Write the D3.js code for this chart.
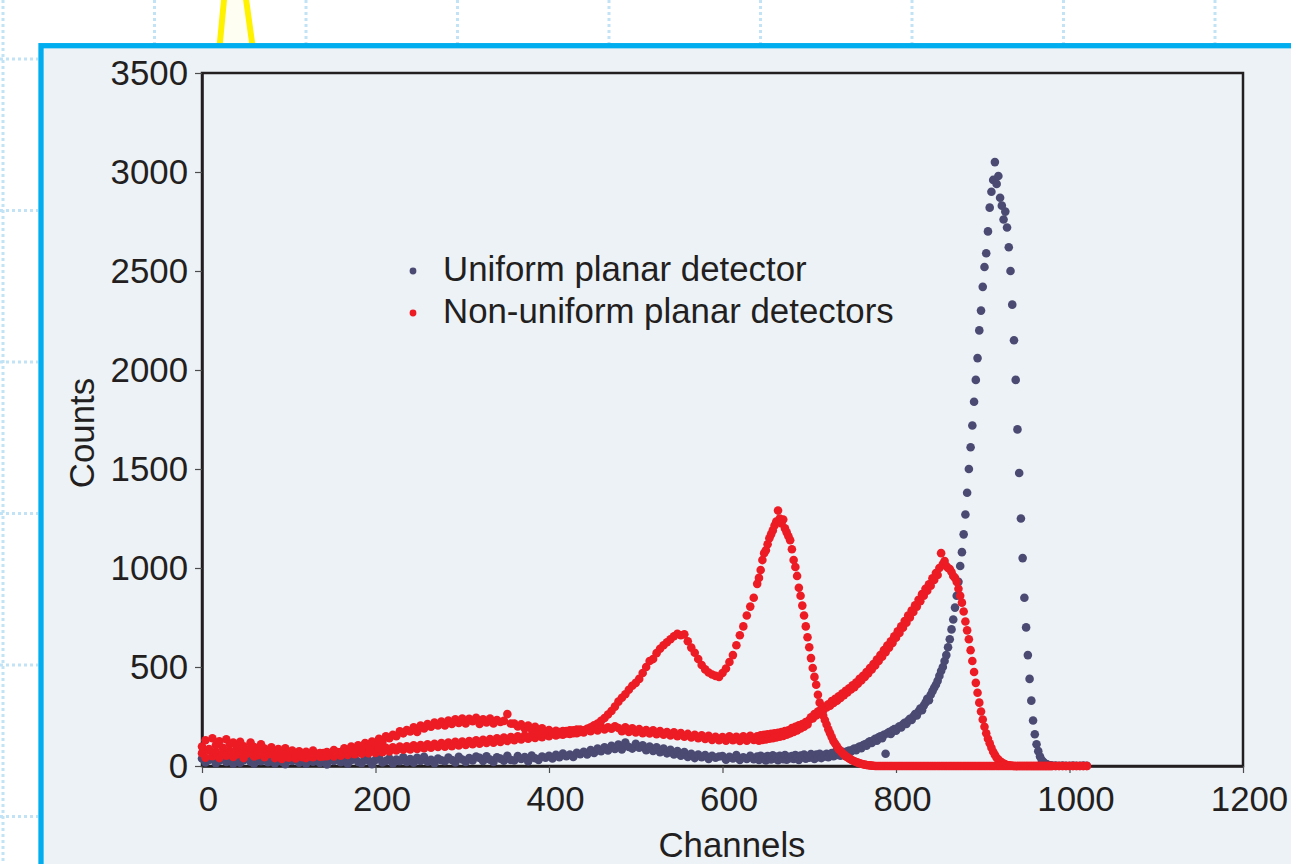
<!DOCTYPE html>
<html lang="en">
<head>
    <meta charset="UTF-8">
    <title>Planar detector spectra</title>
    <script src="https://d3js.org/d3.v7.min.js"></script>
    <style type="text/css">
        body { margin: 0; background: white; }
        svg { display: block; }
        text { font-family: "Liberation Sans", Arial, sans-serif; fill: #231f20; }
    </style>
</head>
<body>
<script type="text/javascript">

    // channel numbers of the plotted samples
    const channels = [
        0,4,8,12,16,20,24,28,32,36,
        40,44,48,52,56,60,64,68,72,76,
        80,84,88,92,96,100,104,108,112,116,
        120,124,128,132,136,140,144,148,152,156,
        160,164,168,172,176,180,184,188,192,196,
        200,204,208,212,216,220,224,228,232,236,
        240,244,248,252,256,260,264,268,272,276,
        280,284,288,292,296,300,304,308,312,316,
        320,324,328,332,336,340,344,348,352,356,
        360,364,368,372,376,380,384,388,392,396,
        400,404,408,412,416,420,424,428,432,436,
        440,444,448,452,456,460,464,468,472,476,
        480,484,488,492,496,500,504,508,512,516,
        520,524,528,532,536,540,544,548,552,556,
        560,564,568,572,576,580,584,588,592,596,
        600,604,608,612,616,620,624,628,632,636,
        640,642,644,646,648,650,652,654,656,658,
        660,662,664,666,668,670,672,674,676,678,
        680,682,684,686,688,690,692,694,696,698,
        700,702,704,706,708,710,712,714,716,718,
        720,722,724,726,728,730,732,734,736,738,
        740,742,744,746,748,750,752,754,756,758,
        760,762,764,766,768,770,772,774,776,778,
        780,782,784,786,788,790,792,794,796,798,
        800,802,804,806,808,810,812,814,816,818,
        820,822,824,826,828,830,832,834,836,838,
        840,842,844,846,848,850,852,854,856,858,
        860,862,864,866,868,870,872,874,876,878,
        880,882,884,886,888,890,892,894,896,898,
        900,902,904,906,908,910,912,914,916,918,
        920,922,924,926,928,930,932,934,936,938,
        940,942,944,946,948,950,952,954,956,958,
        960,962,964,966,968,970,972,974,976,978,
        980,
        984,988,992,996,1000,1004,1008,1012,1016,1020
    ];

    // uniform planar detector
    const uniformCounts = [
        38,18,30,44,14,27,40,20,33,12,
        36,16,29,42,22,11,35,24,40,19,
        30,13,38,22,9,33,26,41,17,28,
        12,35,22,39,15,28,8,33,25,38,
        19,34,11,29,40,21,14,36,27,9,
        31,42,18,26,38,13,33,24,44,20,
        35,17,41,26,46,22,31,14,38,29,
        24,43,30,18,47,33,21,40,28,48,
        41,25,49,32,20,44,37,27,52,30,
        28,50,35,45,24,53,39,31,48,42,
        52,38,57,44,63,49,58,46,67,60,
        72,58,80,66,88,75,95,78,102,86,
        108,84,118,96,88,112,92,104,80,98,
        76,95,70,88,64,82,58,76,52,70,
        46,62,40,58,44,55,36,52,42,48,
        50,32,46,38,55,30,44,36,52,34,
        48,30,52,36,45,28,50,40,33,54,
        38,47,29,52,41,34,55,32,46,39,
        50,35,55,42,31,53,44,58,37,49,
        42,60,48,36,58,45,62,40,55,48,
        62,44,58,66,50,70,56,64,52,72,
        70,64,74,78,72,82,88,80,92,98,
        90,104,110,102,118,125,116,130,138,128,
        145,150,140,158,62,165,172,162,180,186,
        178,192,200,195,210,218,212,228,238,232,
        250,262,255,275,290,282,305,320,340,332,
        360,378,395,410,430,455,480,500,530,560,
        600,640,690,740,800,860,930,1010,1080,1170,
        1270,1380,1500,1610,1720,1840,1950,2060,2200,2300,
        2420,2520,2590,2700,2820,2900,2960,3050,2940,2980,
        2870,2830,2760,2800,2720,2620,2500,2330,2150,1950,
        1700,1480,1250,1050,850,700,560,440,330,230,
        160,110,75,48,30,20,12,8,5,3,
        2,
        2,1,2,1,1,2,1,1,2,1
    ];

    // non-uniform detectors, spectrum with peaks near 545 and 665
    const nonUniformA = [
        98,130,85,140,105,125,92,135,110,118,
        90,122,100,82,118,96,78,110,88,75,
        95,70,86,62,90,68,78,55,74,62,
        72,50,78,58,66,48,70,60,80,62,
        70,90,76,98,88,104,96,116,100,124,
        115,138,122,150,140,158,150,175,165,182,
        175,196,172,204,190,212,198,220,205,225,
        205,230,212,236,218,240,215,238,226,244,
        212,236,220,240,215,232,222,228,262,214,
        214,200,210,190,204,185,198,178,190,172,
        182,166,178,160,176,164,180,166,184,172,
        180,186,195,205,215,228,242,260,278,300,
        325,345,362,385,405,420,440,470,500,530,
        540,570,592,610,625,640,655,668,660,665,
        630,598,572,540,510,488,472,462,455,450,
        470,492,525,560,610,660,705,760,805,850,
        920,950,990,1040,1075,1090,1120,1150,1170,1190,
        1215,1235,1290,1250,1225,1245,1200,1180,1160,1140,
        1095,1040,1005,960,900,860,810,760,705,650,
        600,545,495,450,410,360,320,285,255,232,
        210,185,165,145,125,112,98,85,76,66,
        58,50,44,38,33,28,24,20,17,14,
        11,9,7,5,4,3,2,1,0,0,
        0,0,0,0,0,0,0,0,0,0,
        0,0,0,0,0,0,0,0,0,0,
        0,0,0,0,0,0,0,0,0,0,
        0,0,0,0,0,0,0,0,0,0,
        0,0,0,0,0,0,0,0,0,0,
        0,0,0,0,0,0,0,0,0,0,
        0,0,0,0,0,0,0,0,0,0,
        0,0,0,0,0,0,0,0,0,0,
        0,0,0,0,0,0,0,0,0,0,
        0,0,0,0,0,0,0,0,0,0,
        0,
        0,0,0,0,0,0,0,0,0,0
    ];

    // non-uniform detectors, spectrum with peak near 850
    const nonUniformB = [
        65,42,78,50,70,40,66,52,75,46,
        58,72,40,62,78,48,55,70,44,60,
        62,40,58,35,55,42,64,38,52,45,
        40,58,44,62,47,66,50,64,48,70,
        52,72,56,76,60,78,62,80,64,84,
        66,88,70,92,74,95,78,98,82,100,
        84,104,86,106,90,110,92,112,96,116,
        98,118,100,122,104,124,106,126,110,130,
        112,132,116,136,118,140,122,144,126,146,
        130,150,134,154,138,156,142,160,146,164,
        150,168,154,172,158,176,162,180,166,184,
        170,188,176,194,180,198,184,196,188,200,
        192,176,196,172,190,170,186,166,182,164,
        180,160,176,158,172,154,170,150,166,148,
        162,144,158,140,155,136,152,132,148,130,
        146,128,150,130,148,126,150,128,152,132,
        150,128,155,132,158,134,160,138,162,140,
        165,144,168,148,172,152,176,158,180,165,
        192,172,198,180,206,190,212,198,222,210,
        232,246,240,262,255,275,266,288,280,300,
        296,312,305,328,318,340,330,352,344,366,
        358,380,372,392,386,408,398,422,415,440,
        432,456,450,475,468,495,488,515,508,538,
        530,560,552,585,575,608,598,630,622,655,
        648,680,672,705,698,732,724,760,750,785,
        778,812,805,840,832,868,860,895,885,918,
        910,948,940,975,965,1000,1075,1020,1035,1010,
        1000,995,980,960,950,930,895,860,825,780,
        730,685,640,585,530,475,420,370,320,275,
        235,198,165,138,115,92,72,56,42,32,
        24,17,12,8,5,3,2,1,0,0,
        0,0,0,0,0,0,0,0,0,0,
        0,0,0,0,0,0,0,0,0,0,
        0,
        0,0,0,0,0,0,0,0,0,0
    ];

    const xTicks = [0, 200, 400, 600, 800, 1000, 1200];
    const yTicks = [0, 500, 1000, 1500, 2000, 2500, 3000, 3500];
    const legendLabels = ["Uniform planar detector", "Non-uniform planar detectors"];

    const width = 1291, height = 864;
    const uniformColor = "#4b4a72", nonUniformColor = "#ed1c24";
    const fontSize = "34.8px";

    const svg = d3.select("body").append("svg")
        .attr("width", width)
        .attr("height", height);

    // page decoration behind the chart panel
    const gridColor = "#c2e3f5";
    [3, 154.5, 306, 457.5, 609, 760.5, 912, 1063.5, 1215].forEach(function(gx) {
        svg.append("line")
            .attr("x1", gx).attr("x2", gx)
            .attr("y1", 0).attr("y2", gx === 3 ? height : 44)
            .attr("stroke", gridColor)
            .attr("stroke-width", 3)
            .attr("stroke-dasharray", "3,3");
    });
    [59, 210.5, 362, 513.5, 665, 816.5].forEach(function(gy) {
        svg.append("line")
            .attr("x1", 0).attr("x2", 38)
            .attr("y1", gy).attr("y2", gy)
            .attr("stroke", gridColor)
            .attr("stroke-width", 3)
            .attr("stroke-dasharray", "3,3");
    });

    svg.append("polygon")
        .attr("points", "233,-95 214.5,100 260,100")
        .attr("fill", "#fffef2")
        .attr("stroke", "#fff200")
        .attr("stroke-width", 6);

    svg.append("rect")
        .attr("x", 41).attr("y", 45.7)
        .attr("width", 1400).attr("height", 1000)
        .attr("fill", "#edf2f7")
        .attr("stroke", "#00aeef")
        .attr("stroke-width", 5.3);

    const x = d3.scaleLinear().domain([0, 1200]).range([202, 1243]);
    const y = d3.scaleLinear().domain([0, 3500]).range([766, 73]);

    // frame
    svg.append("rect")
        .attr("x", x(0)).attr("y", y(3500))
        .attr("width", x(1200) - x(0))
        .attr("height", y(0) - y(3500))
        .attr("fill", "none")
        .attr("stroke", "#231f20")
        .attr("stroke-width", 2.5);

    const xAxis = svg.append("g")
        .attr("transform", "translate(0," + y(0) + ")")
        .call(d3.axisBottom(x).tickValues(xTicks).tickFormat(d3.format("d"))
            .tickSize(7).tickSizeOuter(0).tickPadding(13));
    const yAxis = svg.append("g")
        .attr("transform", "translate(" + x(0) + ",0)")
        .call(d3.axisLeft(y).tickValues(yTicks).tickFormat(d3.format("d"))
            .tickSize(7).tickSizeOuter(0).tickPadding(7));

    [xAxis, yAxis].forEach(function(g) {
        g.select(".domain").attr("stroke", "#231f20").attr("stroke-width", 2.5);
        g.selectAll(".tick line").attr("stroke", "#4d4d4d").attr("stroke-width", 1.2);
        g.selectAll(".tick text")
            .attr("fill", "#231f20")
            .style("font-family", "'Liberation Sans', Arial, sans-serif")
            .style("font-size", fontSize);
    });
    // x labels sit a little right of their ticks in the original
    xAxis.selectAll(".tick text").attr("dx", 6);

    // points
    const series = [
        { values: uniformCounts, color: uniformColor },
        { values: nonUniformB, color: nonUniformColor },
        { values: nonUniformA, color: nonUniformColor }
    ];
    series.forEach(function(s) {
        svg.append("g")
            .selectAll("circle")
            .data(channels.map((c, i) => [c, s.values[i]]))
            .join("circle")
            .attr("cx", d => x(d[0]))
            .attr("cy", d => y(d[1]))
            .attr("r", 4.3)
            .attr("fill", s.color);
    });

    // legend
    const legend = svg.append("g");
    [uniformColor, nonUniformColor].forEach(function(col, i) {
        legend.append("circle")
            .attr("cx", 413).attr("cy", 271 + i * 42)
            .attr("r", 3.4)
            .attr("fill", col);
        legend.append("text")
            .attr("x", 443).attr("y", 281 + i * 42)
            .style("font-size", fontSize)
            .text(legendLabels[i]);
    });

    // axis titles
    svg.append("text")
        .attr("transform", "translate(82,433) rotate(-90)")
        .attr("text-anchor", "middle")
        .attr("dy", "0.35em")
        .style("font-size", fontSize)
        .text("Counts");
    svg.append("text")
        .attr("x", 732).attr("y", 845)
        .attr("text-anchor", "middle")
        .attr("dy", "0.35em")
        .style("font-size", fontSize)
        .text("Channels");

</script>
</body>
</html>
